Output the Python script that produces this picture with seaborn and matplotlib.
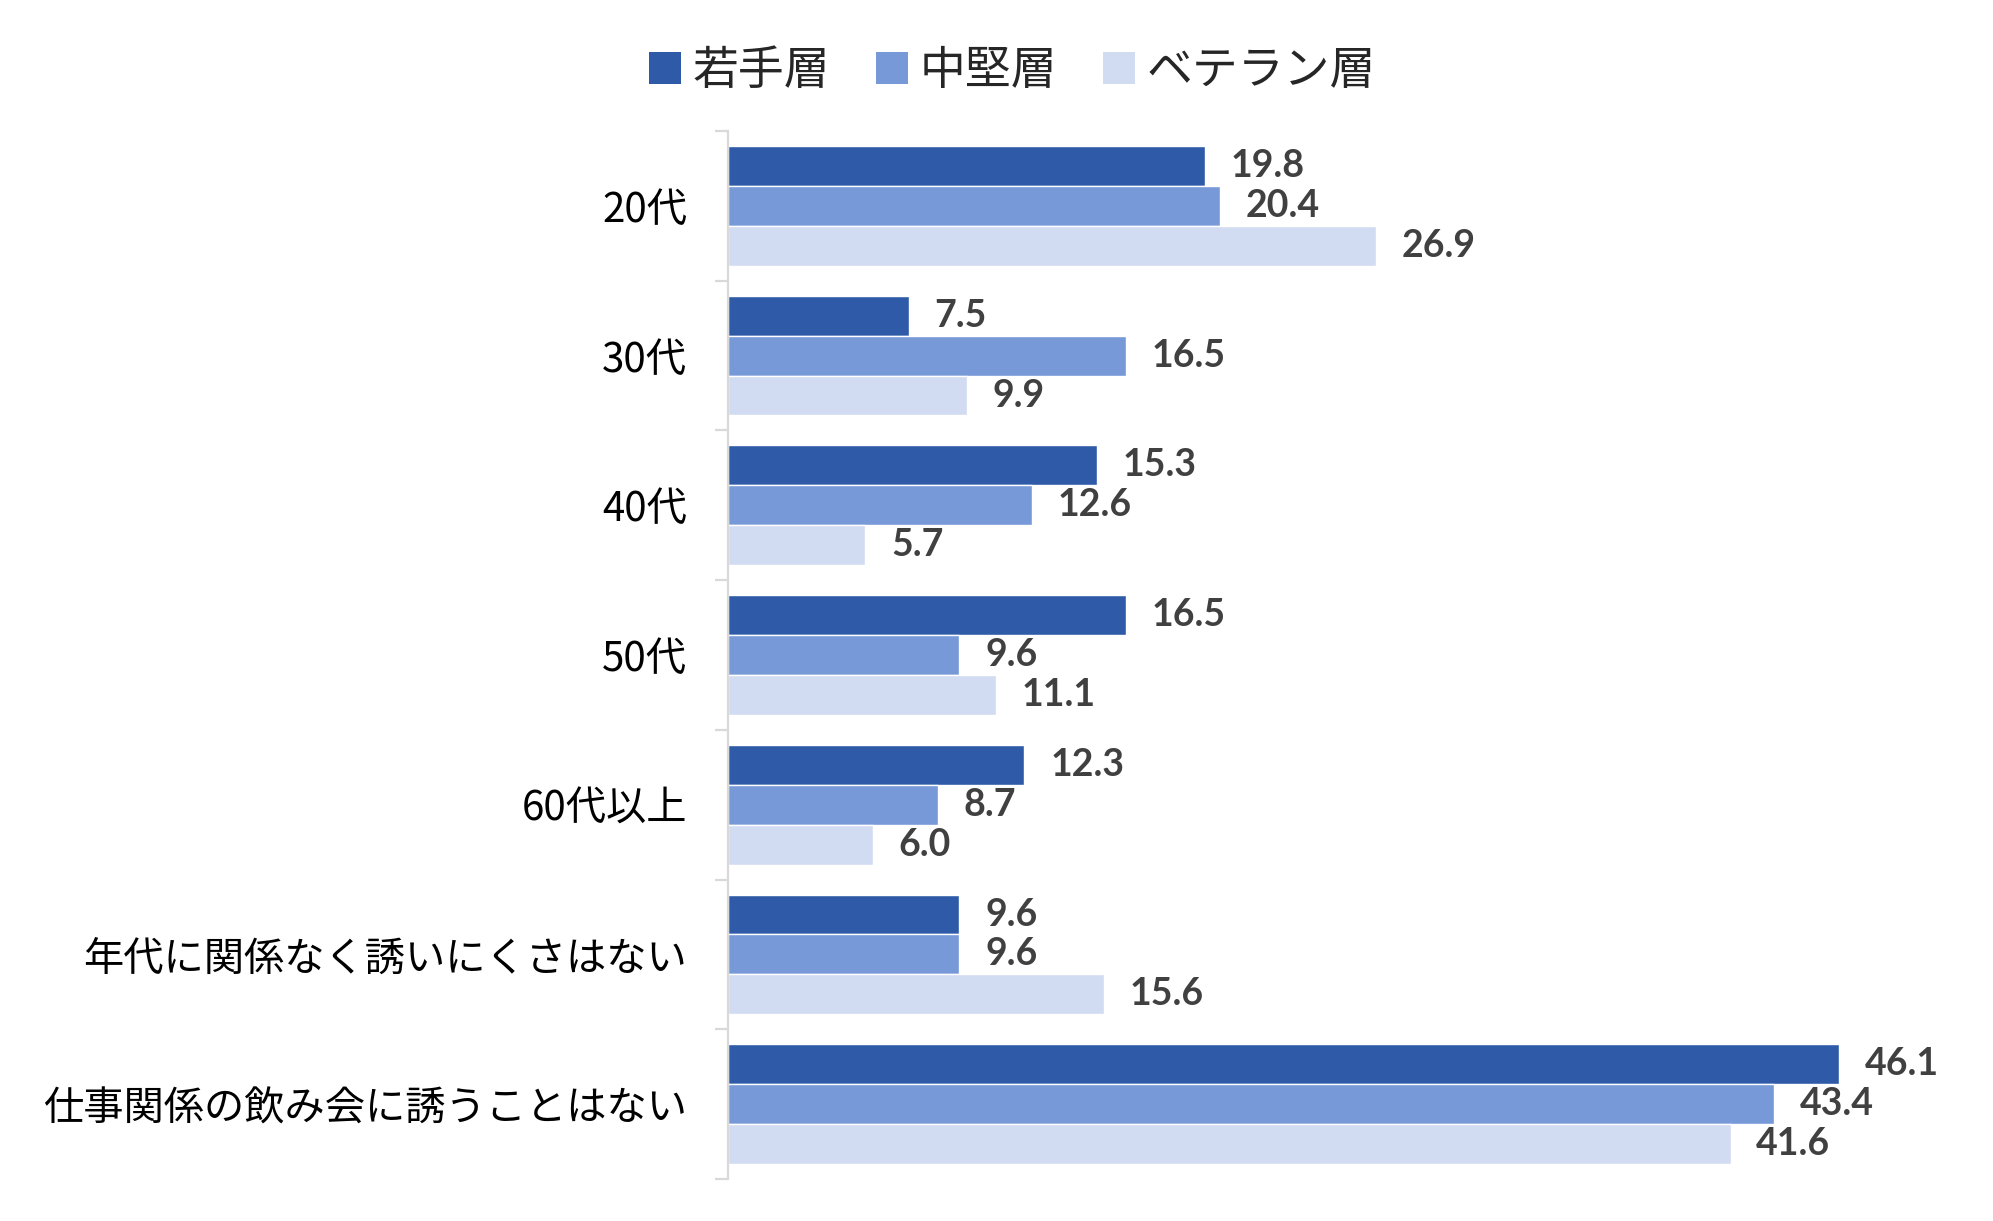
import numpy as np
import pandas as pd
import matplotlib
matplotlib.use("Agg")
import matplotlib.pyplot as plt
import seaborn as sns
from matplotlib.ticker import FixedLocator

categories = ["20代", "30代", "40代", "50代", "60代以上",
              "年代に関係なく誘いにくさはない", "仕事関係の飲み会に誘うことはない"]
groups = ["若手層", "中堅層", "ベテラン層"]
young = [19.8, 7.5, 15.3, 16.5, 12.3, 9.6, 46.1]
middle = [20.4, 16.5, 12.6, 9.6, 8.7, 9.6, 43.4]
veteran = [26.9, 9.9, 5.7, 11.1, 6.0, 15.6, 41.6]
colors = ["#2F5AA8", "#7799D8", "#D1DCF2"]

sns.set_theme(style="white")
plt.rcParams['font.family'] = ['Noto Sans CJK JP', 'DejaVu Sans']

rows = []
for g, vals in zip(groups, [young, middle, veteran]):
    for c, v in zip(categories, vals):
        rows.append({"category": c, "group": g, "value": v})
df = pd.DataFrame(rows)

fig = plt.figure(figsize=(19.93, 12.21), dpi=100)
ax = fig.add_axes([0.3653, 0.0344, 0.6046, 0.8583])

sns.barplot(data=df, y="category", x="value", hue="group", order=categories,
            hue_order=groups, palette=colors, orient="h", width=0.8,
            saturation=1, ax=ax, legend=True)

for cont in ax.containers:
    ax.bar_label(cont, fmt="%.1f", padding=18.5, fontsize=27,
                 fontweight="bold", color="#404040", family=["Lato", "DejaVu Sans"])

ax.set_xlim(0, 50)
ax.set_ylim(len(categories) - 0.5, -0.5)
ax.set_xlabel("")
ax.set_ylabel("")
ax.set_xticks([])
for s in ["top", "right", "bottom"]:
    ax.spines[s].set_visible(False)
ax.spines["left"].set_color("#D9D9D9")
ax.spines["left"].set_linewidth(1.6)

ax.tick_params(axis="y", which="major", length=0, pad=29.5, labelsize=29, labelcolor="black")
ax.yaxis.set_minor_locator(FixedLocator(np.arange(-0.5, len(categories), 1.0)))
ax.tick_params(axis="y", which="minor", length=9.5, width=1.6, color="#D9D9D9", left=True)

leg = ax.get_legend()
if leg is not None:
    leg.remove()
handles = [plt.Rectangle((0, 0), 1, 1, facecolor=c, edgecolor="none") for c in colors]
fig.legend(handles, groups, loc="center", bbox_to_anchor=(0.508, 0.942), ncol=3,
           frameon=False, fontsize=33, handlelength=0.7, handleheight=0.7,
           handletextpad=0.25, columnspacing=1.0)

fig.savefig("out.png", dpi=100)
